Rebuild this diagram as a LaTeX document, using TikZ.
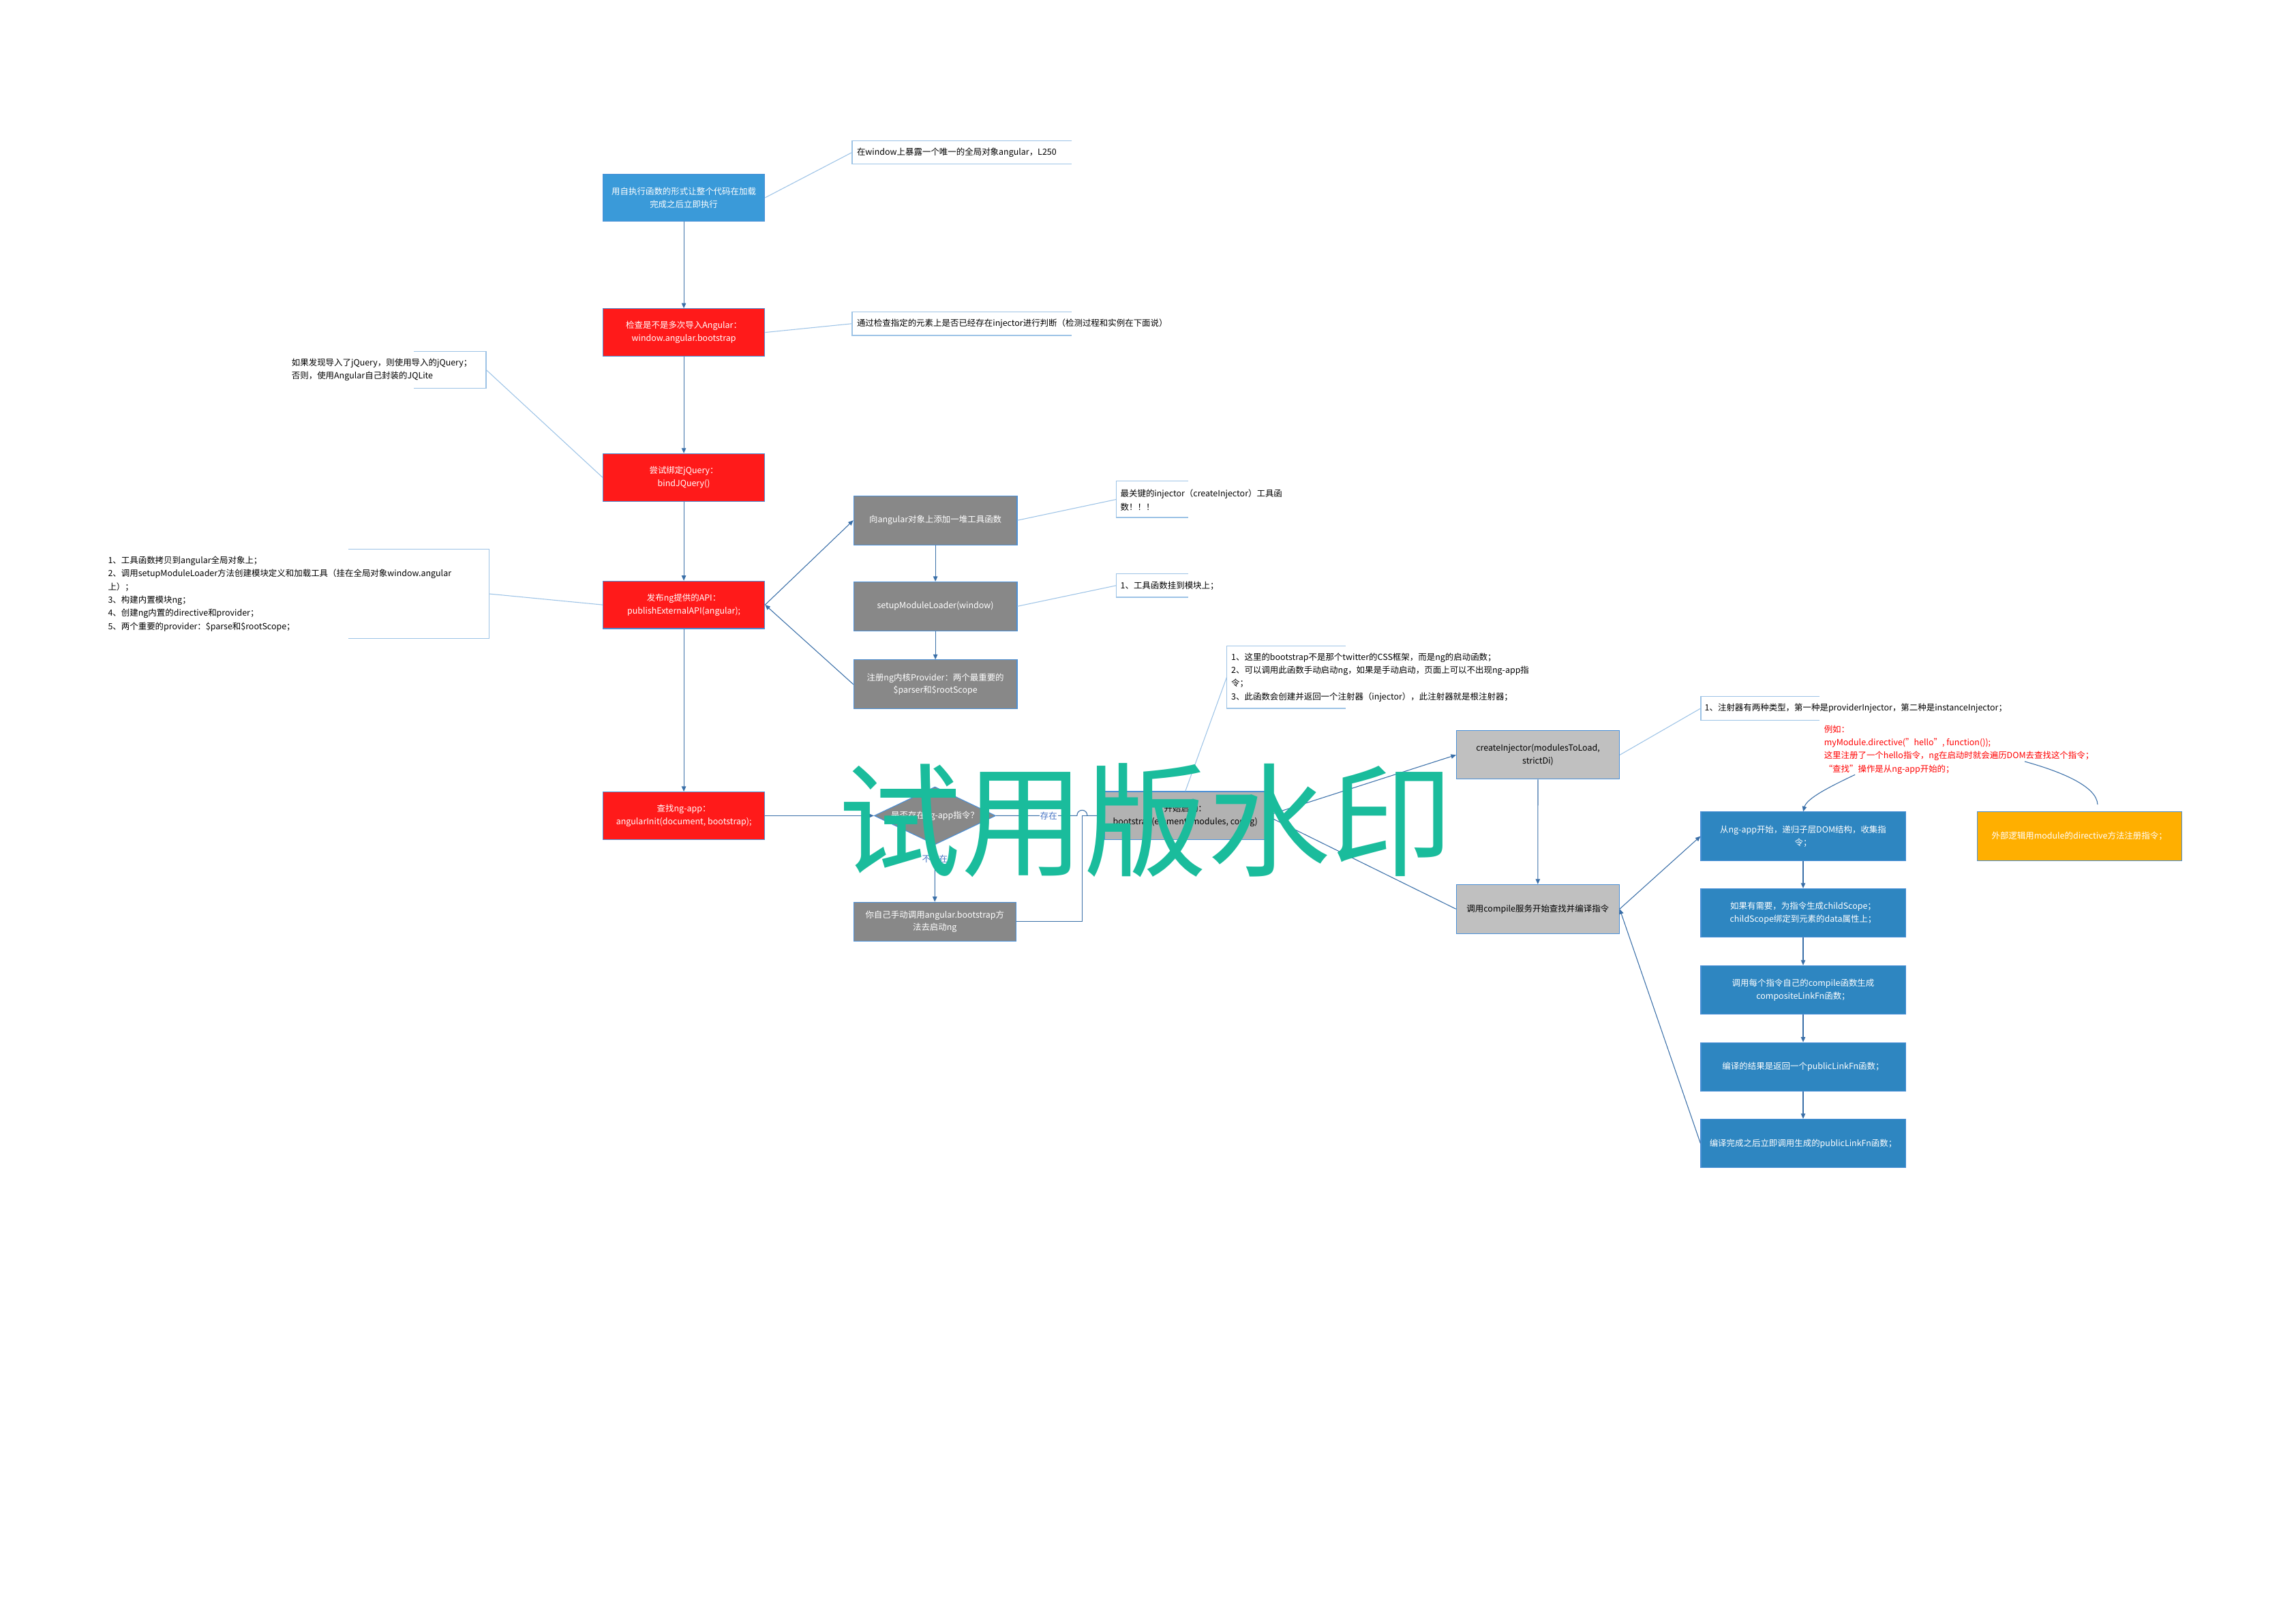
\documentclass[tikz,border=0pt]{standalone}
\usepackage{fontspec}
\setmainfont{Noto Sans CJK SC}
\usetikzlibrary{arrows.meta,shapes.geometric}
\definecolor{boxblue}{HTML}{3A9AD9}
\definecolor{boxred}{HTML}{FF1A1A}
\definecolor{boxgray}{HTML}{888888}
\definecolor{boxmid}{HTML}{B2B2B2}
\definecolor{boxlight}{HTML}{C0C0C0}
\definecolor{boxsteel}{HTML}{2E86C1}
\definecolor{boxorange}{HTML}{FFAF00}
\definecolor{edgeblue}{HTML}{4A8FD6}
\definecolor{flowblue}{HTML}{3A6FA8}
\definecolor{leadblue}{HTML}{9DC3E6}
\definecolor{lblblue}{HTML}{4472C4}
\definecolor{notered}{HTML}{FF0000}
\definecolor{wmark}{HTML}{1ABC9C}
\newcommand\diagfont{\fontsize{5.8}{8.7}\selectfont}
\newcommand\notefont{\fontsize{5.8}{9}\selectfont}
\begin{document}
\begin{tikzpicture}[x=1pt, y=-1pt]
  \tikzstyle{box}=[draw=edgeblue, line width=0.5pt, inner sep=1pt, align=center, font=\diagfont, text=white, minimum width=110.5pt, minimum height=32.5pt]
  \tikzstyle{wide}=[box, minimum width=139.7pt, minimum height=33.2pt]
  \tikzstyle{decision}=[diamond, draw=edgeblue, line width=0.5pt, fill=boxgray, text=white, font=\diagfont, inner sep=0pt, aspect=2.1, minimum width=83pt, minimum height=39.5pt]
  \tikzstyle{note}=[anchor=west, inner sep=0pt, align=left, font=\notefont]
  \tikzstyle{flow}=[draw=flowblue, line width=0.5pt, -{Triangle[length=3.5pt, width=3pt]}]
  \tikzstyle{flowline}=[draw=flowblue, line width=0.5pt]
  \tikzstyle{lead}=[draw=leadblue, line width=0.5pt]
  \tikzstyle{bracket}=[draw=leadblue, line width=0.6pt]
  \tikzstyle{lbl}=[font=\diagfont, text=lblblue, fill=white, inner sep=0.5pt]
  \useasboundingbox (0,0) rectangle (1568,1108.5);

  \node[box, fill=boxblue] (a1) at (467,135) {用自执行函数的形式让整个代码在加载\\完成之后立即执行};
  \node[box, fill=boxred] (a2) at (467,227) {检查是不是多次导入Angular：\\window.angular.bootstrap};
  \node[box, fill=boxred] (a3) at (467,326) {尝试绑定jQuery：\\bindJQuery()};
  \node[box, fill=boxred] (a4) at (467,413) {发布ng提供的API：\\publishExternalAPI(angular);};
  \node[box, fill=boxred] (a5) at (467,557) {查找ng-app：\\angularInit(document, bootstrap);};
  \draw[flow] (a1) -- (a2);
  \draw[flow] (a2) -- (a3);
  \draw[flow] (a3) -- (a4);
  \draw[flow] (a4) -- (a5);

  \coordinate (n1) at (582,104);
  \node[note] (t1) at (585,104) {在window上暴露一个唯一的全局对象angular，L250};
  \draw[bracket] (732,96) -- (582,96) -- (582,112) -- (732,112);
  \draw[lead] (a1.east) -- (n1);

  \coordinate (n2) at (582,221);
  \node[note] (t2) at (585,221) {通过检查指定的元素上是否已经存在injector进行判断（检测过程和实例在下面说）};
  \draw[bracket] (732,213) -- (582,213) -- (582,229) -- (732,229);
  \draw[lead] (a2.east) -- (n2);

  \coordinate (n3) at (332,252.5);
  \node[note] (t3) at (199,252.5) {如果发现导入了jQuery，则使用导入的jQuery；\\否则，使用Angular自己封装的JQLite};
  \draw[bracket] (282.6,240) -- (332,240) -- (332,265) -- (282.6,265);
  \draw[lead] (n3) -- (a3.west);

  \coordinate (n4) at (334,405.5);
  \node[note] (t4) at (73.6,405.5) {1、工具函数拷贝到angular全局对象上；\\2、调用setupModuleLoader方法创建模块定义和加载工具（挂在全局对象window.angular\\上）；\\3、构建内置模块ng；\\4、创建ng内置的directive和provider；\\5、两个重要的provider：\$parse和\$rootScope；};
  \draw[bracket] (238,375) -- (334,375) -- (334,436) -- (238,436);
  \draw[lead] (n4) -- (a4.west);

  \node[box, fill=boxgray, minimum width=111.6pt, minimum height=33.4pt] (b1) at (638.8,355.3) {向angular对象上添加一堆工具函数};
  \node[box, fill=boxgray, minimum width=111.6pt, minimum height=33.4pt] (b2) at (638.8,414) {setupModuleLoader(window)};
  \node[box, fill=boxgray, minimum width=111.6pt, minimum height=33.4pt] (b3) at (638.8,467.3) {注册ng内核Provider：两个最重要的\\\$parser和\$rootScope};
  \draw[flow] (a4.east) -- (b1.west);
  \draw[flow] (b3.west) -- (a4.east);
  \draw[flow] (b1) -- (b2);
  \draw[flow] (b2) -- (b3);

  \coordinate (n5) at (762.4,341);
  \node[note] (t5) at (765,341.5) {最关键的injector（createInjector）工具函\\数！！！};
  \draw[bracket] (811.6,328.5) -- (762.4,328.5) -- (762.4,353.4) -- (811.6,353.4);
  \draw[lead] (b1.east) -- (n5);

  \coordinate (n6) at (762.4,399.8);
  \node[note] (t6) at (765,399.8) {1、工具函数挂到模块上；};
  \draw[bracket] (811.6,391.8) -- (762.4,391.8) -- (762.4,407.8) -- (811.6,407.8);
  \draw[lead] (b2.east) -- (n6);

  \node[decision] (dm) at (638.5,557) {是否存在ng-app指令？};
  \node[box, fill=boxgray, minimum width=110.7pt, minimum height=26.5pt] (l1) at (638.4,629.3) {你自己手动调用angular.bootstrap方\\法去启动ng};
  \node[box, fill=boxmid, text=black, minimum width=110.6pt, minimum height=33pt] (c1) at (809.5,557) {开始启动：\\bootstrap(element, modules, config)};
  \draw[flow] (a5.east) -- (dm.west);
  \draw[flow] (dm.south) -- node[lbl, pos=0.25] {不存在} (l1.north);
  \draw[flow] (l1.east) -| (739,557) -- (c1.west);
  \draw[flow] (dm.east) -- node[lbl, pos=0.65] {存在} (735.5,557) .. controls (735.5,552) and (742.5,552) .. (742.5,557) -- (c1.west);

  \coordinate (n7) at (837.8,462.3);
  \node[note] (t7) at (840.7,462.5) {1、这里的bootstrap不是那个twitter的CSS框架，而是ng的启动函数；\\2、可以调用此函数手动启动ng，如果是手动启动，页面上可以不出现ng-app指\\令；\\3、此函数会创建并返回一个注射器（injector），此注射器就是根注射器；};
  \draw[bracket] (918.8,441) -- (837.8,441) -- (837.8,483.7) -- (918.8,483.7);
  \draw[lead] (n7) -- (c1.north);

  \node[box, fill=boxlight, text=black, minimum width=111.3pt, minimum height=33pt] (c2) at (1050.3,515.5) {createInjector(modulesToLoad,\\strictDi)};
  \node[box, fill=boxlight, text=black, minimum width=111.3pt, minimum height=33.4pt] (c3) at (1050.2,620.7) {调用compile服务开始查找并编译指令};
  \draw[flow] (c1.east) -- (c2.west);
  \draw[flow] (c3.west) -- (c1.east);
  \draw[flow] (c2) -- (c3);

  \coordinate (n8) at (1161.6,483.6);
  \node[note] (t8) at (1164,483.6) {1、注射器有两种类型，第一种是providerInjector，第二种是instanceInjector；};
  \draw[bracket] (1242.6,475.5) -- (1161.6,475.5) -- (1161.6,491.7) -- (1242.6,491.7);
  \draw[lead] (c2.east) -- (n8);

  \node[wide, fill=boxsteel] (d1) at (1231.4,571) {从ng-app开始，递归子层DOM结构，收集指\\令；};
  \node[wide, fill=boxsteel] (d2) at (1231.4,623.4) {如果有需要，为指令生成childScope；\\childScope绑定到元素的data属性上；};
  \node[wide, fill=boxsteel] (d3) at (1231.4,676) {调用每个指令自己的compile函数生成\\compositeLinkFn函数；};
  \node[wide, fill=boxsteel] (d4) at (1231.4,728.5) {编译的结果是返回一个publicLinkFn函数；};
  \node[wide, fill=boxsteel] (d5) at (1231.4,780.8) {编译完成之后立即调用生成的publicLinkFn函数；};
  \node[wide, fill=boxorange] (e1) at (1420,571) {外部逻辑用module的directive方法注册指令；};
  \draw[flow] (c3.east) -- (d1.west);
  \draw[flow] (d5.west) -- (c3.east);
  \draw[flow] (d1) -- (d2);
  \draw[flow] (d2) -- (d3);
  \draw[flow] (d3) -- (d4);
  \draw[flow] (d4) -- (d5);

  \node[note, text=notered] (t9) at (1245.5,511.8) {例如：\\myModule.directive("hello", function(){});\\这里注册了一个hello指令，ng在启动时就会遍历DOM去查找这个指令；\\“查找”操作是从ng-app开始的；};
  \coordinate (r1) at (1266.8,529);
  \coordinate (r2) at (1382.7,520);
  \coordinate (r3) at (1432.5,549.4);
  \draw[flow] (r1) .. controls (1250,537) and (1234,545) .. (d1.north);
  \draw[flowline] (r2) .. controls (1408,527) and (1432,537) .. (r3);

  \node[text=wmark, font=\fontsize{84}{84}\selectfont] (wm) at (782.5,560) {试用版水印};
\end{tikzpicture}
\end{document}
